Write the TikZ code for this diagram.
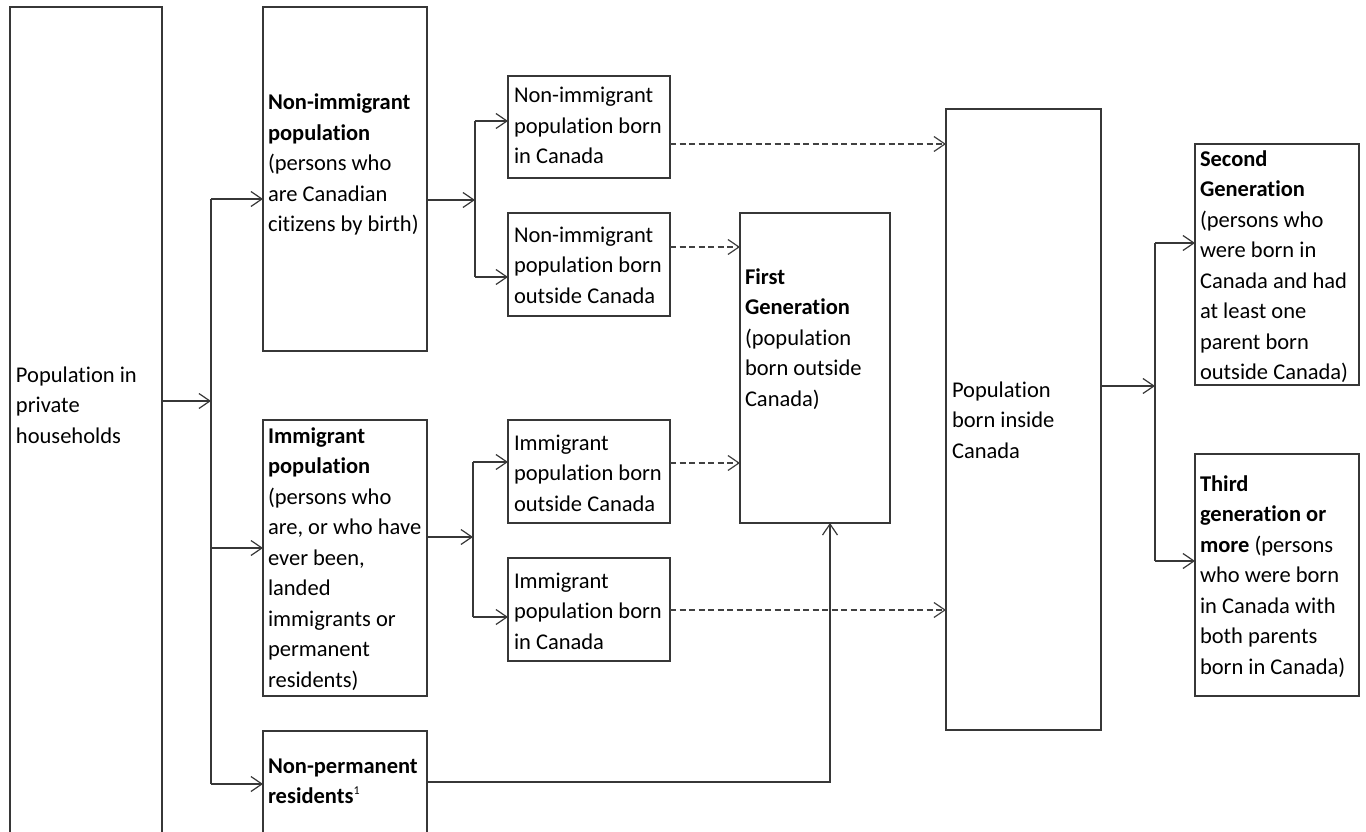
\documentclass[tikz,border=0pt]{standalone}
\usepackage{fontspec}
\setmainfont{Carlito}[Ligatures={NoCommon}]
\usetikzlibrary{arrows.meta}
\definecolor{lc}{RGB}{55,55,55}
\definecolor{dc}{RGB}{65,65,65}
\newcommand\mylines[1]{\begin{tabular}[t]{@{}l@{}}#1\end{tabular}}
\newcommand\supone{{\fontsize{12}{12}\selectfont\raisebox{9pt}{1}}}
\begin{document}
\begin{tikzpicture}[x=1pt,y=-1pt,
  box/.style={draw=lc, line width=1.2pt, rectangle, inner sep=0pt, outer sep=0pt, anchor=north west},
  txt/.style={anchor=base west, inner sep=0pt, outer sep=0pt, font=\fontsize{22.5}{30.5}\selectfont, text=black},
  arr/.style={draw=lc, line width=1.2pt, -{Straight Barb[length=11pt,width=15pt]}},
  ln/.style={draw=lc, line width=1.2pt},
  darr/.style={draw=dc, line width=1.2pt, dash pattern=on 6pt off 3.5pt, -{Straight Barb[length=11pt,width=15pt]}}]
\fill[white] (0,0) rectangle (1366,832);
\clip (0,0) rectangle (1366,832);
\useasboundingbox (0,0) rectangle (1366,832);

% boxes
\node[box, minimum width=152pt, minimum height=838pt] (pph) at (10,7) {};
\node[box, minimum width=164pt, minimum height=344pt] (nonimm) at (263,7) {};
\node[box, minimum width=164pt, minimum height=276pt] (imm) at (263,420) {};
\node[box, minimum width=164pt, minimum height=114pt] (npr) at (263,731) {};
\node[box, minimum width=162pt, minimum height=102pt] (nibc) at (508,76) {};
\node[box, minimum width=162pt, minimum height=103pt] (nibo) at (508,213) {};
\node[box, minimum width=162pt, minimum height=103pt] (ibo) at (508,420) {};
\node[box, minimum width=162pt, minimum height=103pt] (ibc) at (508,558) {};
\node[box, minimum width=150pt, minimum height=310pt] (first) at (740,213) {};
\node[box, minimum width=155pt, minimum height=621pt] (inside) at (946,109) {};
\node[box, minimum width=164pt, minimum height=241pt] (second) at (1195,144) {};
\node[box, minimum width=164pt, minimum height=242pt] (third) at (1195,454) {};

% texts
\node[txt] (pph-t) at (16,382) {\mylines{Population in\\private\\households}};
\node[txt] (nonimm-t) at (268,110) {\mylines{\textbf{Non-immigrant}\\\textbf{population}\\(persons who\\are Canadian\\citizens by birth)}};
\node[txt] (imm-t) at (268,443) {\mylines{\textbf{Immigrant}\\\textbf{population}\\(persons who\\are, or who have\\ever been,\\landed\\immigrants or\\permanent\\residents)}};
\node[txt] (npr-t) at (268,773) {\mylines{\textbf{Non-permanent}\\\textbf{residents}\supone}};
\node[txt] (nibc-t) at (514,103) {\mylines{Non-immigrant\\population born\\in Canada}};
\node[txt] (nibo-t) at (514,242) {\mylines{Non-immigrant\\population born\\outside Canada}};
\node[txt] (ibo-t) at (514,450) {\mylines{Immigrant\\population born\\outside Canada}};
\node[txt] (ibc-t) at (514,588) {\mylines{Immigrant\\population born\\in Canada}};
\node[txt] (first-t) at (745,284) {\mylines{\textbf{First}\\\textbf{Generation}\\(population\\born outside\\Canada)}};
\node[txt] (inside-t) at (952,397) {\mylines{Population\\born inside\\Canada}};
\node[txt] (second-t) at (1200,166.5) {\mylines{\textbf{Second}\\\textbf{Generation}\\(persons who\\were born in\\Canada and had\\at least one\\parent born\\outside Canada)}};
\node[txt] (third-t) at (1200,491) {\mylines{\textbf{Third}\\\textbf{generation or}\\\textbf{more} (persons\\who were born\\in Canada with\\both parents\\born in Canada)}};

% bus coordinates
\coordinate (b1) at (211,401);
\coordinate (b1t) at (211,199);
\coordinate (b1m) at (211,548);
\coordinate (b1b) at (211,784);
\coordinate (b2) at (475,200);
\coordinate (b2t) at (475,121);
\coordinate (b2b) at (475,277);
\coordinate (b3) at (473,537);
\coordinate (b3t) at (473,462);
\coordinate (b3b) at (473,617);
\coordinate (b4) at (1155,386);
\coordinate (b4t) at (1155,243);
\coordinate (b4b) at (1155,561);
\coordinate (d1) at (946,144);
\coordinate (d2) at (740,247);
\coordinate (d3) at (740,463);
\coordinate (d4) at (946,610);
\coordinate (c1) at (830,782);

% connectors
\draw[arr] (pph.east |- b1) -- (b1);
\draw[ln] (b1t) -- (b1b);
\draw[arr] (b1t) -- (b1t -| nonimm.west);
\draw[arr] (b1m) -- (b1m -| imm.west);
\draw[arr] (b1b) -- (b1b -| npr.west);

\draw[arr] (nonimm.east |- b2) -- (b2);
\draw[ln] (b2t) -- (b2b);
\draw[arr] (b2t) -- (b2t -| nibc.west);
\draw[arr] (b2b) -- (b2b -| nibo.west);

\draw[arr] (imm.east |- b3) -- (b3);
\draw[ln] (b3t) -- (b3b);
\draw[arr] (b3t) -- (b3t -| ibo.west);
\draw[arr] (b3b) -- (b3b -| ibc.west);

\draw[darr] (d1 -| nibc.east) -- (d1);
\draw[darr] (d2 -| nibo.east) -- (d2);
\draw[darr] (d3 -| ibo.east) -- (d3);
\draw[darr] (d4 -| ibc.east) -- (d4);

\draw[arr] (c1 -| npr.east) -- (c1) -- (c1 |- first.south);

\draw[arr] (inside.east |- b4) -- (b4);
\draw[ln] (b4t) -- (b4b);
\draw[arr] (b4t) -- (b4t -| second.west);
\draw[arr] (b4b) -- (b4b -| third.west);
\end{tikzpicture}
\end{document}
